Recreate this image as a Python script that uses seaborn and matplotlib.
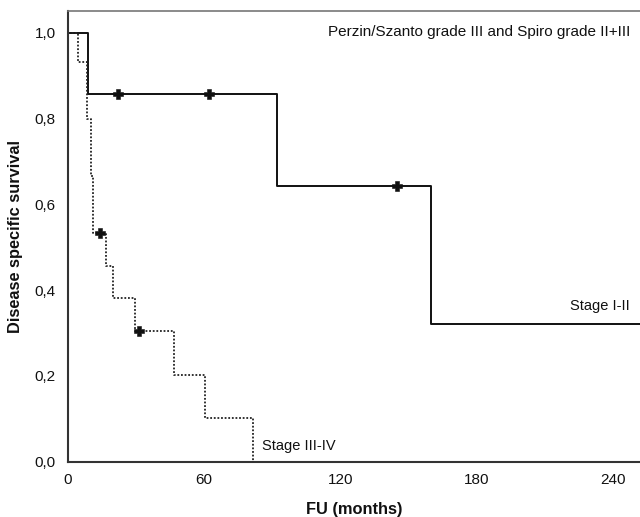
import pandas as pd
import matplotlib.pyplot as plt
import seaborn as sns

# data (step points, steps-post)
early_t = [0, 9, 22, 62, 92, 145, 160, 252]
early_s = [1.0, 0.857, 0.857, 0.857, 0.643, 0.643, 0.321, 0.321]
early_cens_t = [22, 62, 145]
early_cens_s = [0.857, 0.857, 0.643]

late_t = [0, 4.6, 8.4, 10.0, 10.9, 16.7, 20.0, 29.4, 46.5, 60.2, 81.6]
late_s = [1.0, 0.933, 0.8, 0.667, 0.533, 0.457, 0.381, 0.305, 0.203, 0.102, 0.0]
late_cens_t = [14.1, 31.4]
late_cens_s = [0.533, 0.305]

x_ticks = [0, 60, 120, 180, 240]
y_ticks = [0.0, 0.2, 0.4, 0.6, 0.8, 1.0]
y_tick_labels = ["0,0", "0,2", "0,4", "0,6", "0,8", "1,0"]

df_early = pd.DataFrame({"t": early_t, "s": early_s})
df_late = pd.DataFrame({"t": late_t, "s": late_s})
cens = pd.DataFrame({"t": early_cens_t + late_cens_t, "s": early_cens_s + late_cens_s})

#plotting
sns.set_theme(style="white")
plt.rcParams["font.family"] = ["Liberation Sans", "DejaVu Sans"]
plt.rcParams["text.color"] = "#111111"

f = plt.figure(figsize=(6.4, 5.17), dpi=100)
ax = f.add_axes([68 / 640, 1 - 461.7 / 517, 1 - 68 / 640, (461.7 - 11) / 517])

sns.lineplot(df_early, x="t", y="s", drawstyle="steps-post", color="#111111",
             linewidth=1.4, ax=ax, estimator=None)
sns.lineplot(df_late, x="t", y="s", drawstyle="steps-post", color="#222222",
             linewidth=1.3, linestyle=(0, (1.0, 1.0)), ax=ax, estimator=None)
sns.scatterplot(cens, x="t", y="s", marker="P", s=50, color="#111111",
                edgecolor="#111111", linewidth=0.4, ax=ax, zorder=5)

ax.set_xlim(0, 252)
ax.set_ylim(0, 1.051)
ax.set_xticks(x_ticks)
ax.set_xticklabels([str(v) for v in x_ticks], fontsize=11, color="#111111")
ax.set_yticks(y_ticks)
ax.set_yticklabels(y_tick_labels, fontsize=11, color="#111111")
ax.tick_params(axis="y", direction="out", length=8, width=1.2, color="#333333", pad=1)
ax.tick_params(axis="x", direction="out", length=6, width=1.2, color="#333333", pad=2)

for side in ["left", "bottom"]:
    ax.spines[side].set_color("#333333")
    ax.spines[side].set_linewidth(1.5)
ax.spines["top"].set_color("#777777")
ax.spines["top"].set_linewidth(1.2)
ax.spines["right"].set_visible(False)

ax.set_xlabel("FU (months)", fontsize=11.8, fontweight="bold", labelpad=11, color="#111111")
ax.set_ylabel("Disease specific survival", fontsize=11.8, fontweight="bold", labelpad=8,
              color="#111111")

ax.text(0.9825, 0.954, "Perzin/Szanto grade III and Spiro grade II+III", transform=ax.transAxes,
        ha="right", va="center", fontsize=11)
ax.text(234.3, 0.362, "Stage I-II", ha="center", va="center", fontsize=10.5)
ax.text(101.8, 0.037, "Stage III-IV", ha="center", va="center", fontsize=10.5)

f.savefig("out.png", dpi=100)
